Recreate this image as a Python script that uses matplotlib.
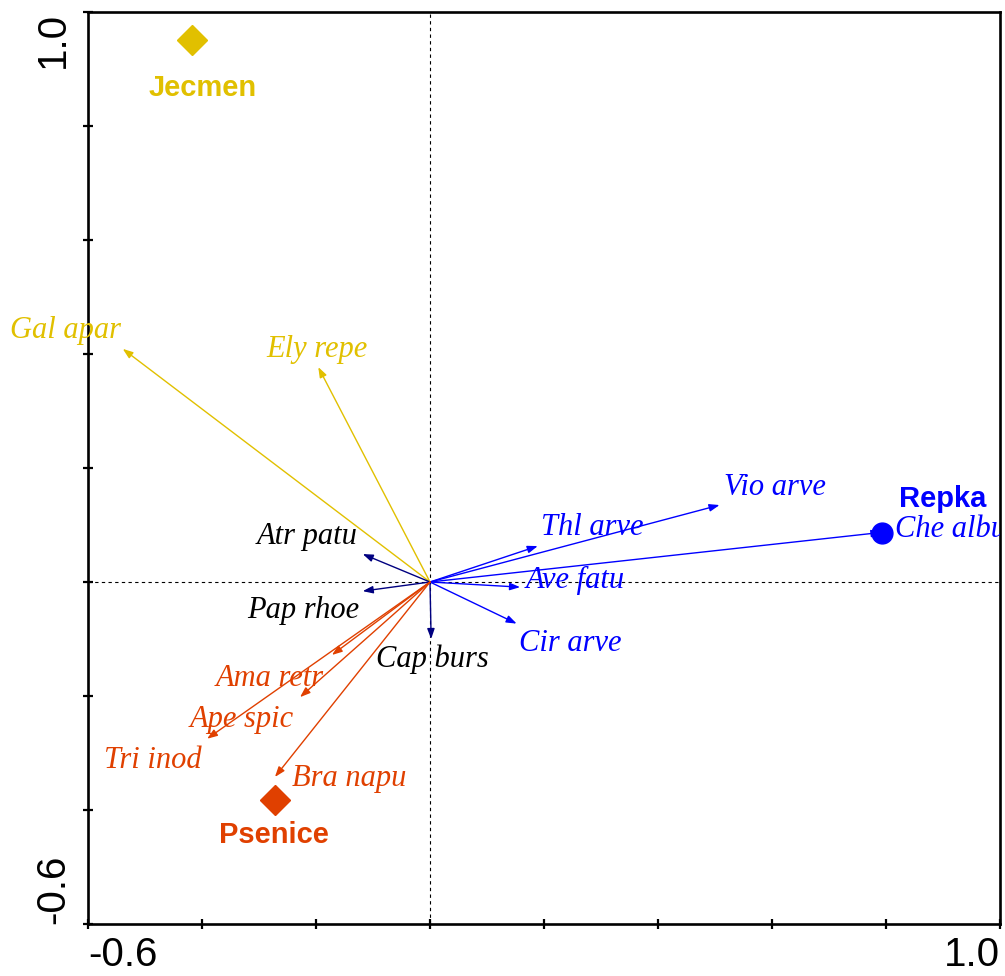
import matplotlib

matplotlib.use("Agg")
import matplotlib.pyplot as plt

# --- data (CCA-style biplot scores) ---------------------------------------
crops = ["Jecmen", "Psenice", "Repka"]
crop_x = [-0.418, -0.272, 0.793]
crop_y = [0.951, -0.382, 0.086]
crop_marker = ["D", "D", "o"]

species = ["Gal apar", "Ely repe", "Atr patu", "Pap rhoe", "Cap burs",
           "Thl arve", "Ave fatu", "Cir arve", "Vio arve", "Che albu",
           "Ama retr", "Ape spic", "Tri inod", "Bra napu"]
sp_x = [-0.539, -0.196, -0.118, -0.118, 0.002,
        0.189, 0.158, 0.152, 0.508, 0.792,
        -0.172, -0.228, -0.391, -0.272]
sp_y = [0.409, 0.377, 0.049, -0.016, -0.100,
        0.063, -0.009, -0.073, 0.135, 0.087,
        -0.128, -0.202, -0.275, -0.342]
sp_group = ["Jecmen", "Jecmen", None, None, None,
            "Repka", "Repka", "Repka", "Repka", "Repka",
            "Psenice", "Psenice", "Psenice", "Psenice"]

# --- layout: where labels sit (data coords) --------------------------------
crop_label_pos = {"Jecmen": (-0.398, 0.866), "Psenice": (-0.274, -0.443),
                  "Repka": (0.900, 0.145)}
sp_label_pos = {
    "Gal apar": (-0.640, 0.441), "Ely repe": (-0.198, 0.408),
    "Atr patu": (-0.216, 0.080), "Pap rhoe": (-0.223, -0.050),
    "Cap burs": (0.004, -0.135), "Thl arve": (0.284, 0.095),
    "Ave fatu": (0.254, 0.003), "Cir arve": (0.246, -0.108),
    "Vio arve": (0.605, 0.165), "Che albu": (0.816, 0.092),
    "Ama retr": (-0.281, -0.170), "Ape spic": (-0.330, -0.241),
    "Tri inod": (-0.486, -0.313), "Bra napu": (-0.142, -0.345),
}

colors = {"Jecmen": "#E1C000", "Psenice": "#E04000", "Repka": "#0000FF"}
arrow_none, text_none = "#000080", "black"

serif = "Liberation Serif"
sans = "Liberation Sans"

fig = plt.figure(figsize=(10.05, 9.76), dpi=100)
ax = fig.add_axes([88 / 1005, 52 / 976, 912 / 1005, 912 / 976])
ax.set_xlim(-0.6, 1.0)
ax.set_ylim(-0.6, 1.0)

# zero lines
ax.axhline(0, color="black", lw=0.8, dashes=(3, 3), zorder=1)
ax.axvline(0, color="black", lw=0.8, dashes=(3, 3), zorder=1)

# species arrows + labels
for name, x, y, g in zip(species, sp_x, sp_y, sp_group):
    ac = colors[g] if g else arrow_none
    tc = colors[g] if g else text_none
    ax.annotate("", xy=(x, y), xytext=(0, 0),
                arrowprops=dict(arrowstyle="-|>,head_length=0.55,head_width=0.2",
                                mutation_scale=11, color=ac, lw=1.0,
                                shrinkA=0, shrinkB=0), zorder=2)
    lx, ly = sp_label_pos[name]
    clip = name == "Che albu"
    ax.text(lx, ly, name, ha="left" if clip else "center", va="center",
            fontsize=22, style="italic", family=serif, color=tc,
            clip_on=clip, zorder=4)

# crop centroids
for name, x, y, m in zip(crops, crop_x, crop_y, crop_marker):
    ax.plot(x, y, marker=m, ms=15.5 if m == "D" else 15, color=colors[name],
            ls="none", zorder=3)
    lx, ly = crop_label_pos[name]
    ax.text(lx, ly, name, ha="center", va="center", fontsize=21,
            fontweight="bold", family=sans, color=colors[name], zorder=4)

# axes frame & ticks
for sp in ax.spines.values():
    sp.set_linewidth(1.9)
ticks = [-0.6, -0.4, -0.2, 0.0, 0.2, 0.4, 0.6, 0.8, 1.0]
labels = ["-0.6"] + [""] * 7 + ["1.0"]
ax.set_xticks(ticks)
ax.set_yticks(ticks)
ax.set_xticklabels(labels, family=sans, fontsize=29)
ax.set_yticklabels(labels, family=sans, fontsize=29, rotation=90)
ax.tick_params(direction="inout", length=7, width=1.6, top=False, right=False)
ax.tick_params(axis="x", pad=5)
ax.tick_params(axis="y", pad=8)
xl = ax.get_xticklabels()
xl[0].set_ha("left")
xl[-1].set_ha("right")
yl = ax.get_yticklabels()
yl[0].set_va("bottom")
yl[-1].set_va("top")
for t in yl:
    t.set_ha("right")

fig.savefig("out.png", dpi=100)
